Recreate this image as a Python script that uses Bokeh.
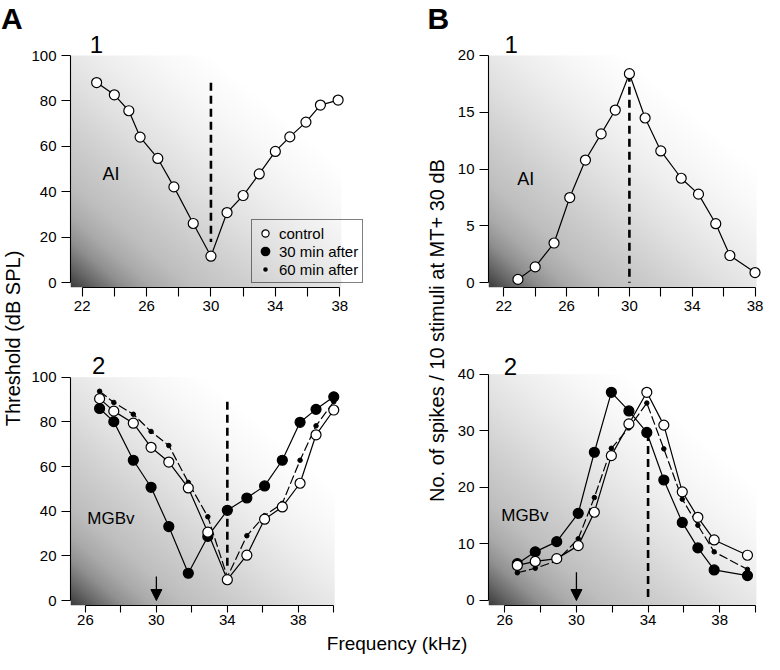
import numpy as np
from bokeh.plotting import figure
from bokeh.layouts import row, column
from bokeh.models import Range1d, FixedTicker, Legend, LegendItem, Arrow, NormalHead
from bokeh.core.properties import value
from bokeh.embed import file_html
from bokeh.resources import INLINE

# ---------------------------------------------------------------- data
# A1: threshold tuning curve of an AI neuron (control)
a1_freq = [22.9, 24.0, 24.9, 25.6, 26.7, 27.7, 28.9, 30.0, 31.0, 32.0, 33.0, 34.0, 34.9, 35.9, 36.8, 37.9]
a1_control = [88.1, 82.7, 75.7, 64.1, 54.7, 42.2, 26.1, 11.7, 30.9, 38.4, 47.9, 57.8, 64.2, 70.7, 78.2, 80.4]

# B1: spikes / 10 stimuli at MT+30 dB, AI neuron (control)
b1_freq = [22.9, 24.0, 25.2, 26.2, 27.2, 28.2, 29.1, 30.0, 31.0, 32.0, 33.3, 34.4, 35.5, 36.4, 38.0]
b1_control = [0.3, 1.4, 3.5, 7.5, 10.8, 13.1, 15.2, 18.4, 14.5, 11.6, 9.2, 7.8, 5.2, 2.4, 0.9]

# A2: threshold tuning curves of an MGBv neuron
a2_freq = [26.8, 27.6, 28.7, 29.7, 30.7, 31.8, 32.9, 34.0, 35.1, 36.1, 37.1, 38.1, 39.0, 40.0]
a2_control = [90.4, 84.8, 79.4, 68.6, 62.0, 50.4, 30.6, 9.3, 20.3, 36.4, 41.9, 52.5, 74.2, 85.3]
a2_30min = [86.0, 80.1, 62.8, 50.7, 33.1, 12.2, 28.7, 40.4, 45.9, 51.3, 62.8, 79.8, 85.6, 91.2]
a2_60min = [93.7, 88.7, 83.4, 75.7, 69.4, 52.9, 37.5, 10.5, 29.0, 38.0, 43.5, 62.8, 78.2, 89.0]

# B2: spikes / 10 stimuli, MGBv neuron
b2_freq = [26.7, 27.7, 28.9, 30.1, 31.0, 31.95, 32.93, 33.93, 34.88, 35.91, 36.78, 37.69, 39.55]
b2_control = [6.2, 6.9, 7.4, 9.7, 15.6, 25.6, 31.2, 36.8, 31.0, 19.2, 14.7, 10.7, 8.0]
b2_30min = [6.5, 8.6, 10.4, 15.4, 26.2, 36.8, 33.5, 29.7, 21.3, 13.8, 9.3, 5.4, 4.4]
b2_60min = [4.9, 5.7, 7.0, 10.9, 18.2, 26.9, 30.5, 34.9, 26.8, 17.9, 13.3, 8.6, 5.5]

# best frequencies (dashed lines) and conditioning frequency (arrows)
a_cf = 30.0
b_cf = 34.0
stim_freq = 30.0
a1_cf_span = [88.0, 18.0]
b1_cf_span = [18.4, 0.0]
a2_cf_span = [89.0, 14.0]
b2_cf_span = [29.6, 0.0]
a2_arrow_span = [10.8, 0.0]
b2_arrow_span = [5.0, 0.0]

# ticks
top_xticks = [22, 26, 30, 34, 38]
top_xminor = [24, 28, 32, 36]
bot_xticks = [26, 30, 34, 38]
bot_xminor = [28, 32, 36, 40]
a_yticks = [0, 20, 40, 60, 80, 100]
b1_yticks = [0, 5, 10, 15, 20]
b2_yticks = [0, 10, 20, 30, 40]
legend_labels = ["control", "30 min after", "60 min after"]

# ---------------------------------------------------------------- style
FONT = "Liberation Sans"
GRAD_T = [0.0, 0.05, 0.10, 0.15, 0.22, 0.32, 0.45, 0.55, 0.65, 0.75, 1.0]
GRAD_V = [60, 105, 145, 170, 190, 205, 225, 238, 248, 255, 255]


def grad_img(wpx, hpx):
    u = np.linspace(0, 1, wpx)[None, :]
    v = np.linspace(0, 1, hpx)[:, None]
    t = (u + v) / 2.0
    g = np.interp(t, GRAD_T, GRAD_V).astype(np.uint32)
    return (np.uint32(255) << 24) | (g << 16) | (g << 8) | g


def add_text(p, x, y, s, size, align="left", bold=False, angle=0.0):
    p.text(x=[x], y=[y], text=[s], text_font=value(FONT),
           text_font_size=value(f"{size}px"),
           text_font_style="bold" if bold else "normal",
           text_align=align, text_baseline="middle",
           text_color="black", angle=angle)


def make_panel(width, height, borders, xr, yr, xb, yb, xticks, xminor, yticks,
               grad_top, grad_right, xtick_out=9, xstandoff=4):
    bl, br, bt, bb = borders
    p = figure(width=width, height=height, x_range=Range1d(*xr), y_range=Range1d(*yr),
               output_backend="svg", toolbar_location=None, tools="",
               min_border_left=bl, min_border_right=br,
               min_border_top=bt, min_border_bottom=bb)
    p.xgrid.visible = False
    p.ygrid.visible = False
    p.outline_line_color = None
    p.background_fill_color = "white"
    p.border_fill_color = "white"
    # background gradient
    fw = width - bl - br
    fh = height - bt - bb
    pxx = fw / (xr[1] - xr[0])
    pxy = fh / (yr[1] - yr[0])
    gx0, gy0 = xr[0], yr[0]
    wpx = int(round((grad_right - gx0) * pxx))
    hpx = int(round((grad_top - gy0) * pxy))
    p.image_rgba(image=[grad_img(wpx, hpx)], x=gx0, y=gy0,
                 dw=grad_right - gx0, dh=grad_top - gy0)
    xa = p.xaxis[0]
    ya = p.yaxis[0]
    xa.bounds = xb
    ya.bounds = yb
    xa.ticker = FixedTicker(ticks=xticks, minor_ticks=xminor)
    ya.ticker = FixedTicker(ticks=yticks)
    for ax in (xa, ya):
        ax.axis_line_color = "black"
        ax.axis_line_width = 1.1
        ax.major_tick_line_color = "black"
        ax.major_tick_line_width = 1.1
        ax.major_tick_in = 0
        ax.major_label_text_font = FONT
        ax.major_label_text_font_size = "15px"
        ax.major_label_text_color = "black"
    ya.major_tick_out = 9
    xa.major_tick_out = xtick_out
    xa.minor_tick_line_color = "black"
    xa.minor_tick_line_width = 1.1
    xa.minor_tick_out = xtick_out
    xa.minor_tick_in = 0
    ya.minor_tick_line_color = None
    xa.major_label_standoff = xstandoff
    ya.major_label_standoff = 5
    return p


def cf_line(p, x, span):
    p.segment(x0=[x], y0=[span[0]], x1=[x], y1=[span[1]], line_color="black",
              line_width=2.6, line_dash="8 5")


def arrow(p, x, span):
    p.add_layout(Arrow(end=NormalHead(size=11, fill_color="black", line_color="black", line_width=1),
                       x_start=x, y_start=span[0], x_end=x, y_end=span[1],
                       line_color="black", line_width=1.3))


def series(p, x, ctrl=None, m30=None, m60=None):
    if m60 is not None:
        p.line(x, m60, line_color="black", line_width=1.2, line_dash="9 3")
    if m30 is not None:
        p.line(x, m30, line_color="black", line_width=1.2)
    if ctrl is not None:
        p.line(x, ctrl, line_color="black", line_width=1.2)
    if m60 is not None:
        p.scatter(x, m60, marker="circle", size=4.5, fill_color="black", line_color="black")
    if m30 is not None:
        p.scatter(x, m30, marker="circle", size=10, fill_color="black", line_color="black", line_width=1.2)
    if ctrl is not None:
        p.scatter(x, ctrl, marker="circle", size=10, fill_color="white", line_color="black", line_width=1.2)


# ---------------------------------------------------------------- panels
LA_W = 28
LB_W = 28
TOP_H = 327
BOT_H = 304
A_W = 394
B_W = 314

A1 = make_panel(A_W, TOP_H, (40, 5, 28, 40), (21.277, 42.83), (-2.068, 111.88),
                (22, 38), (0, 100), top_xticks, top_xminor, a_yticks, 100, 38.1)
cf_line(A1, a_cf, a1_cf_span)
series(A1, a1_freq, ctrl=a1_control)
add_text(A1, 22.89, 104.8, "1", 24, align="center")
add_text(A1, 23.26, 47.9, "AI", 18)

leg_r = [
    A1.scatter([np.nan], [np.nan], marker="circle", size=10, fill_color="white", line_color="black", line_width=1.2),
    A1.scatter([np.nan], [np.nan], marker="circle", size=10, fill_color="black", line_color="black", line_width=2.5),
    A1.scatter([np.nan], [np.nan], marker="circle", size=10, fill_color="black", line_color="#dcdcdc", line_width=2.6),
]
legend = Legend(items=[LegendItem(label=lab, renderers=[r]) for lab, r in zip(legend_labels, leg_r)],
                location=(181, 4), padding=4, spacing=0, margin=0,
                glyph_width=18, glyph_height=18, label_height=18, label_standoff=5,
                label_text_font=FONT, label_text_font_size="15px", label_text_color="black",
                border_line_color="black", border_line_width=1.2, background_fill_alpha=0.0)
A1.add_layout(legend)

B1 = make_panel(B_W, TOP_H, (38, 0, 28, 40), (21.025, 38.605), (-0.4136, 22.375),
                (22, 38), (0, 20), top_xticks, top_xminor, b1_yticks, 20, 38.1)
cf_line(B1, a_cf, b1_cf_span)
series(B1, b1_freq, ctrl=b1_control)
add_text(B1, 22.47, 20.97, "1", 24, align="center")
add_text(B1, 22.85, 9.09, "AI", 18)

A2 = make_panel(A_W, BOT_H, (40, 5, 18, 26), (25.159, 44.72), (-2.239, 114.19),
                (26, 40), (0, 100), bot_xticks, bot_xminor, a_yticks, 100, 40.05,
                xtick_out=7, xstandoff=2)
cf_line(A2, b_cf, a2_cf_span)
series(A2, a2_freq, ctrl=a2_control, m30=a2_30min, m60=a2_60min)
arrow(A2, stim_freq, a2_arrow_span)
add_text(A2, 26.75, 105.2, "2", 24, align="center")
add_text(A2, 26.11, 36.9, "MGBv", 17)

B2 = make_panel(B_W, BOT_H, (38, 0, 18, 26), (25.090, 40.501), (-0.884, 45.07),
                (26, 40), (0, 40), bot_xticks, bot_xminor, b2_yticks, 40, 40.05,
                xtick_out=7, xstandoff=2)
cf_line(B2, b_cf, b2_cf_span)
series(B2, b2_freq, ctrl=b2_control, m30=b2_30min, m60=b2_60min)
arrow(B2, stim_freq, b2_arrow_span)
add_text(B2, 26.31, 41.4, "2", 24, align="center")
add_text(B2, 25.8, 15.1, "MGBv", 17)


def blank(width, height):
    p = figure(width=width, height=height, x_range=Range1d(0, width), y_range=Range1d(0, height),
               output_backend="svg", toolbar_location=None, tools="",
               x_axis_location=None, y_axis_location=None,
               min_border_left=0, min_border_right=0, min_border_top=0, min_border_bottom=0)
    p.grid.visible = False
    p.outline_line_color = None
    return p


COL_H = TOP_H + BOT_H
LA = blank(LA_W, COL_H)
add_text(LA, 0.5, COL_H - 17.5, "A", 30, bold=True)
add_text(LA, 12.5, COL_H - 338, "Threshold (dB SPL)", 20, align="center", angle=np.pi / 2)

LB = blank(LB_W, COL_H)
add_text(LB, 5, COL_H - 17.5, "B", 30, bold=True)
add_text(LB, 14, COL_H - 330, "No. of spikes / 10 stimuli at MT+ 30 dB", 20, align="center", angle=np.pi / 2)

STRIP_H = 654 - COL_H
STRIP = blank(LA_W + A_W + LB_W + B_W, STRIP_H)
add_text(STRIP, 396.5, 11.5, "Frequency (kHz)", 19, align="center")

page = column(row(LA, column(A1, A2), LB, column(B1, B2)), STRIP)

open("out.html", "w").write(file_html(page, INLINE))
